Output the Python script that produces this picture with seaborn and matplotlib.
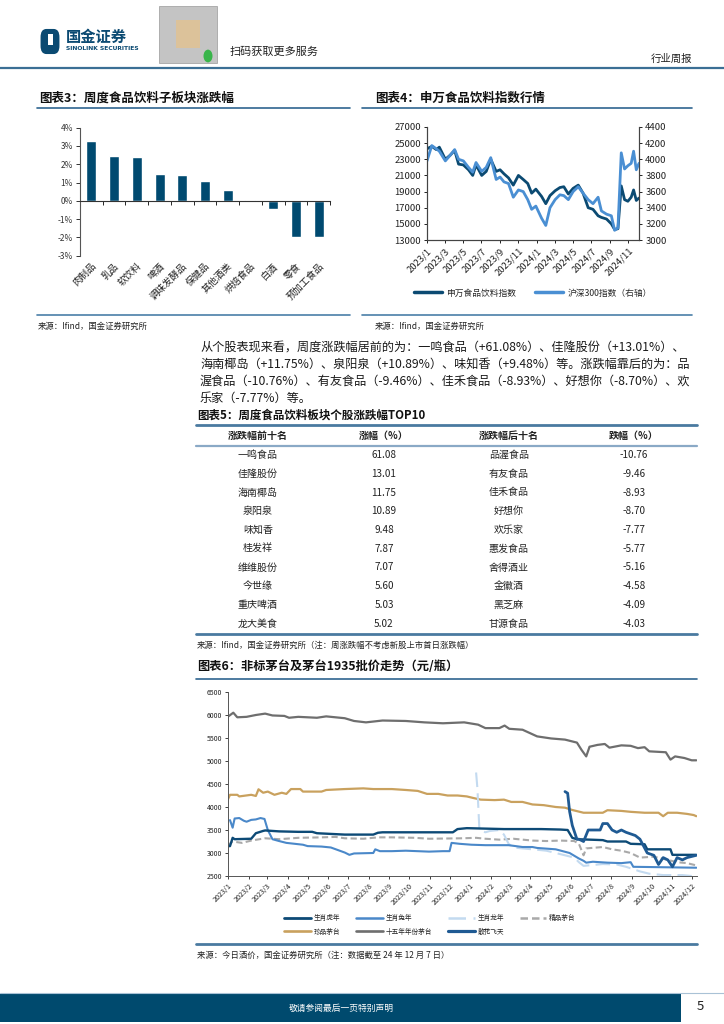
import matplotlib
matplotlib.use('Agg')
import matplotlib.pyplot as plt
from matplotlib.lines import Line2D
from matplotlib.patches import Rectangle, FancyBboxPatch, Circle
import seaborn as sns
import pandas as pd

sns.set_theme(style='white')
plt.rcParams['font.family'] = ['Noto Sans CJK SC', 'DejaVu Sans']
plt.rcParams['axes.unicode_minus'] = False

# ---------------- data ----------------
cats3 = ['肉制品', '乳品', '软饮料', '啤酒', '调味发酵品', '保健品', '其他酒类', '烘焙食品', '白酒', '零食', '预加工食品']
vals3 = [3.3, 2.45, 2.4, 1.45, 1.4, 1.1, 0.6, 0.05, -0.45, -1.95, -2.0]
yticks3 = [-3, -2, -1, 0, 1, 2, 3, 4]

d4 = ['2023-01-01', '2023-01-17', '2023-02-01', '2023-02-11', '2023-03-03', '2023-03-19', '2023-04-03', '2023-04-16',
      '2023-05-02', '2023-05-19', '2023-06-02', '2023-06-13', '2023-07-02', '2023-07-17', '2023-08-01', '2023-08-19',
      '2023-09-01', '2023-09-14', '2023-09-29', '2023-10-15', '2023-11-01', '2023-11-17', '2023-12-02', '2023-12-15',
      '2023-12-29', '2024-01-17', '2024-01-31', '2024-02-14', '2024-03-02', '2024-03-18', '2024-03-31', '2024-04-15',
      '2024-05-01', '2024-05-18', '2024-06-03', '2024-06-20', '2024-07-06', '2024-07-23', '2024-08-03', '2024-08-20',
      '2024-09-05', '2024-09-16', '2024-09-27', '2024-10-08', '2024-10-19', '2024-10-30', '2024-11-10', '2024-11-18',
      '2024-11-27', '2024-12-06']
sw_food = [24300, 24600, 24200, 24500, 23000, 23500, 24100, 22400, 22300, 21700, 21000, 22300, 21000, 21500, 23000,
           21500, 21700, 21200, 20700, 19800, 21000, 20500, 20000, 18800, 19300, 18400, 17500, 18500, 19100, 19500,
           19600, 18700, 19400, 19800, 18800, 17000, 16800, 16000, 15800, 15600, 15000, 14300, 14400, 19700, 18000,
           17800, 18300, 19200, 17900, 18200]
hs300 = [3980, 4170, 4130, 4100, 3980, 4050, 4120, 4000, 3980, 3900, 3840, 3960, 3850, 3900, 4020, 3750, 3780, 3720,
         3700, 3530, 3620, 3600, 3500, 3380, 3420, 3270, 3180, 3400, 3500, 3560, 3550, 3500, 3600, 3660, 3580, 3500,
         3450, 3530, 3360, 3320, 3300, 3120, 3150, 4080, 3880, 3920, 3950, 4100, 3870, 3950]
ticks4 = ['2023/1', '2023/3', '2023/5', '2023/7', '2023/9', '2023/11', '2024/1', '2024/3', '2024/5', '2024/7', '2024/9', '2024/11']

table_up_names = ['一鸣食品', '佳隆股份', '海南椰岛', '泉阳泉', '味知香', '桂发祥', '维维股份', '今世缘', '重庆啤酒', '龙大美食']
table_up_vals = [61.08, 13.01, 11.75, 10.89, 9.48, 7.87, 7.07, 5.60, 5.03, 5.02]
table_dn_names = ['品渥食品', '有友食品', '佳禾食品', '好想你', '欢乐家', '惠发食品', '舍得酒业', '金徽酒', '黑芝麻', '甘源食品']
table_dn_vals = [-10.76, -9.46, -8.93, -8.70, -7.77, -5.77, -5.16, -4.58, -4.09, -4.03]

tiger_d = ['2023-01-01', '2023-01-04', '2023-01-08', '2023-01-11', '2023-02-05', '2023-02-12', '2023-02-23', '2023-02-26',
           '2023-03-19', '2023-04-17', '2023-05-08', '2023-05-15', '2023-05-29', '2023-06-26', '2023-08-08', '2023-08-15',
           '2023-08-22', '2023-09-05', '2023-12-06', '2023-12-13', '2023-12-27', '2024-01-24', '2024-02-21', '2024-03-20',
           '2024-04-17', '2024-05-16', '2024-05-27', '2024-06-03', '2024-06-10', '2024-07-19', '2024-07-26', '2024-08-23',
           '2024-08-30', '2024-09-20', '2024-09-24', '2024-10-29', '2024-11-01', '2024-12-07']
tiger_v = [3150, 3150, 3330, 3300, 3310, 3430, 3480, 3490, 3470, 3460, 3460, 3430, 3420, 3400, 3400, 3440, 3450, 3450,
           3450, 3520, 3540, 3530, 3520, 3520, 3520, 3510, 3500, 3330, 3300, 3280, 3250, 3250, 3200, 3190, 3080, 3080,
           2960, 2960]
rabbit_d = ['2023-01-04', '2023-01-08', '2023-01-11', '2023-01-18', '2023-01-25', '2023-01-29', '2023-02-05', '2023-02-12',
            '2023-02-19', '2023-02-25', '2023-03-02', '2023-03-09', '2023-03-19', '2023-03-30', '2023-04-24', '2023-05-01',
            '2023-05-22', '2023-06-05', '2023-06-26', '2023-07-03', '2023-07-10', '2023-08-08', '2023-08-11', '2023-08-18',
            '2023-09-05', '2023-09-26', '2023-10-31', '2023-11-21', '2023-12-01', '2023-12-04', '2023-12-16', '2024-01-03',
            '2024-01-24', '2024-02-28', '2024-03-20', '2024-04-04', '2024-04-11', '2024-05-09', '2024-05-30', '2024-06-13',
            '2024-06-20', '2024-06-24', '2024-07-04', '2024-07-26', '2024-08-16', '2024-08-30', '2024-09-03', '2024-12-07']
rabbit_v = [3715, 3550, 3750, 3760, 3700, 3680, 3720, 3730, 3760, 3740, 3500, 3300, 3260, 3220, 3180, 3150, 3140, 3120,
            3010, 2960, 2990, 3000, 3080, 3040, 3040, 3050, 3030, 3040, 3040, 3220, 3200, 3180, 3170, 3170, 3130, 3130,
            3110, 3080, 3000, 2880, 2830, 2790, 2810, 2790, 2780, 2800, 2700, 2680]
dragon_d = ['2024-01-10', '2024-01-12', '2024-01-15', '2024-01-24', '2024-01-31', '2024-02-14', '2024-02-21', '2024-02-28',
            '2024-03-06', '2024-03-20', '2024-04-04', '2024-04-25', '2024-05-09', '2024-05-23', '2024-06-06', '2024-06-13',
            '2024-06-20', '2024-07-19', '2024-08-09', '2024-08-23', '2024-09-13', '2024-09-27', '2024-10-18', '2024-11-16',
            '2024-11-30', '2024-12-07']
dragon_v = [4750, 4400, 3500, 3450, 3480, 3500, 3400, 3200, 3120, 3100, 3080, 3050, 3000, 2950, 2900, 2800, 2720, 2760,
            2750, 2700, 2600, 2550, 2520, 2520, 2500, 2560]
jp_d = ['2023-01-01', '2023-01-08', '2023-01-22', '2023-02-05', '2023-02-26', '2023-03-19', '2023-04-17', '2023-05-22',
        '2023-06-12', '2023-06-26', '2023-07-24', '2023-08-15', '2023-09-05', '2023-10-10', '2023-10-31', '2023-12-20',
        '2024-01-10', '2024-01-24', '2024-02-14', '2024-03-06', '2024-04-04', '2024-04-25', '2024-05-16', '2024-06-06',
        '2024-06-13', '2024-06-20', '2024-06-24', '2024-07-19', '2024-08-02', '2024-08-16', '2024-08-30', '2024-09-13',
        '2024-10-04', '2024-10-25', '2024-11-08', '2024-11-23', '2024-12-07']
jp_v = [3170, 3250, 3220, 3270, 3320, 3300, 3330, 3340, 3350, 3320, 3310, 3340, 3340, 3330, 3310, 3320, 3330, 3310,
        3290, 3310, 3270, 3260, 3270, 3260, 3200, 2950, 3100, 3130, 3080, 3050, 3000, 2900, 2920, 2850, 2800, 2780, 2730]
zp_d = ['2023-01-01', '2023-01-04', '2023-01-15', '2023-01-18', '2023-02-05', '2023-02-12', '2023-02-16', '2023-02-23',
        '2023-03-02', '2023-03-12', '2023-03-23', '2023-03-30', '2023-04-06', '2023-04-20', '2023-04-24', '2023-05-22',
        '2023-05-29', '2023-06-26', '2023-07-24', '2023-08-08', '2023-09-05', '2023-09-26', '2023-10-14', '2023-10-28',
        '2023-11-14', '2023-11-28', '2023-12-13', '2023-12-27', '2024-01-06', '2024-01-17', '2024-02-07', '2024-02-21',
        '2024-03-03', '2024-03-20', '2024-04-04', '2024-04-21', '2024-05-09', '2024-05-23', '2024-06-03', '2024-06-20',
        '2024-07-19', '2024-07-26', '2024-08-16', '2024-08-30', '2024-09-20', '2024-10-11', '2024-10-18', '2024-10-25',
        '2024-11-08', '2024-11-23', '2024-12-03', '2024-12-07']
zp_v = [4170, 4265, 4265, 4230, 4265, 4240, 4385, 4310, 4335, 4265, 4310, 4285, 4390, 4390, 4335, 4335, 4370, 4390,
        4405, 4390, 4390, 4370, 4350, 4285, 4285, 4250, 4250, 4230, 4195, 4160, 4150, 4160, 4110, 4110, 4055, 4040,
        4000, 3985, 3935, 3875, 3875, 3930, 3915, 3895, 3875, 3875, 3800, 3875, 3875, 3850, 3825, 3800]
ft_d = ['2023-01-01', '2023-01-09', '2023-01-15', '2023-01-29', '2023-02-12', '2023-02-26', '2023-03-09', '2023-03-27',
        '2023-04-03', '2023-04-17', '2023-05-15', '2023-05-29', '2023-06-26', '2023-07-10', '2023-07-28', '2023-08-22',
        '2023-09-26', '2023-10-24', '2023-11-21', '2023-12-23', '2024-01-13', '2024-01-24', '2024-02-14', '2024-02-22',
        '2024-02-29', '2024-03-20', '2024-04-11', '2024-05-02', '2024-05-23', '2024-06-10', '2024-06-17', '2024-06-24',
        '2024-06-29', '2024-07-11', '2024-07-22', '2024-07-29', '2024-08-16', '2024-08-30', '2024-09-10', '2024-09-20',
        '2024-09-27', '2024-10-22', '2024-10-29', '2024-11-05', '2024-11-19', '2024-11-30', '2024-12-07']
ft_v = [5965, 6050, 5950, 5960, 6000, 6030, 5990, 5980, 5940, 5960, 5940, 5970, 5930, 5870, 5840, 5880, 5870, 5840,
        5820, 5840, 5790, 5715, 5715, 5770, 5700, 5680, 5535, 5490, 5465, 5400, 5240, 5100, 5310, 5350, 5370, 5290,
        5340, 5330, 5280, 5300, 5210, 5190, 5030, 5100, 5065, 5015, 5015]
sh_d = ['2024-05-23', '2024-05-27', '2024-05-30', '2024-06-03', '2024-06-10', '2024-06-13', '2024-06-20', '2024-06-27',
        '2024-07-04', '2024-07-15', '2024-07-19', '2024-07-26', '2024-08-02', '2024-08-09', '2024-08-16', '2024-08-23',
        '2024-09-06', '2024-09-13', '2024-09-24', '2024-10-04', '2024-10-11', '2024-10-18', '2024-10-25', '2024-11-01',
        '2024-11-08', '2024-11-16', '2024-11-23', '2024-12-07']
sh_v = [4335, 4300, 3900, 3600, 3300, 3300, 3250, 3500, 3500, 3500, 3640, 3640, 3500, 3450, 3500, 3450, 3380, 3300,
        3000, 2950, 2750, 2900, 2850, 2700, 2900, 2850, 2900, 2950]
ticks6 = ['2023/1', '2023/2', '2023/3', '2023/4', '2023/5', '2023/6', '2023/7', '2023/8', '2023/9', '2023/10', '2023/11',
          '2023/12', '2024/1', '2024/2', '2024/3', '2024/4', '2024/5', '2024/6', '2024/7', '2024/8', '2024/9', '2024/10',
          '2024/11', '2024/12']
yticks6 = [2500, 3000, 3500, 4000, 4500, 5000, 5500, 6000, 6500]

para_lines = ['从个股表现来看，周度涨跌幅居前的为：一鸣食品（+61.08%）、佳隆股份（+13.01%）、',
              '海南椰岛（+11.75%）、泉阳泉（+10.89%）、味知香（+9.48%）等。涨跌幅靠后的为：品',
              '渥食品（-10.76%）、有友食品（-9.46%）、佳禾食品（-8.93%）、好想你（-8.70%）、欢',
              '乐家（-7.77%）等。']

# ---------------- page helpers ----------------
W, H = 724, 1024
DARK = '#004a70'
RULE = '#3f729b'
TXT = '#222222'

fig = plt.figure(figsize=(W / 100, H / 100), dpi=100)
fig.patch.set_facecolor('white')


def axpx(x0, y0, x1, y1):
    return fig.add_axes([x0 / W, 1 - y1 / H, (x1 - x0) / W, (y1 - y0) / H])


def text(x, y, s, **kw):
    kw.setdefault('color', TXT)
    kw.setdefault('va', 'center')
    fig.text(x / W, 1 - y / H, s, **kw)


def rule(x0, x1, y, color=RULE, lw=1.2):
    fig.add_artist(Line2D([x0 / W, x1 / W], [1 - y / H, 1 - y / H], color=color, lw=lw,
                          transform=fig.transFigure))


def rect(x0, y0, x1, y1, **kw):
    fig.add_artist(Rectangle((x0 / W, 1 - y1 / H), (x1 - x0) / W, (y1 - y0) / H,
                             transform=fig.transFigure, **kw))


# ---------------- header ----------------
fig.add_artist(FancyBboxPatch((42 / W, 1 - 52 / H), 16 / W, 21 / H, boxstyle='round,pad=0.002,rounding_size=0.008',
                              transform=fig.transFigure, facecolor='#0b4a72', edgecolor='none'))
rect(48, 34, 53, 45, facecolor='white', edgecolor='none')
text(66, 37, '国金证券', fontsize=11, fontweight='bold', color='#0b4a72')
text(66, 48, 'SINOLINK SECURITIES', fontsize=4.3, fontweight='bold', color='#0b4a72', family='DejaVu Sans')
rect(159, 6, 217, 63, facecolor='#c4c4c4', edgecolor='#9a9a9a', lw=0.5)
rect(176, 20, 200, 48, facecolor='#dcc29a', edgecolor='none')
fig.add_artist(Circle((208 / W, 1 - 56 / H), 4.5 / W, transform=fig.transFigure, facecolor='#39b54a', edgecolor='none'))
text(230, 52, '扫码获取更多服务', fontsize=8)
text(651, 59, '行业周报', fontsize=7.5)
rule(0, 724, 68, color='#3b6f95', lw=1.6)

# ---------------- chart 3 ----------------
text(39, 98, '图表3：周度食品饮料子板块涨跌幅', fontsize=9, fontweight='bold', color='#111111')
rule(37, 350, 108, color='#2f6590', lw=1.2)
ax3 = axpx(80, 127.7, 330, 255.7)
sns.barplot(x=cats3, y=vals3, order=cats3, color=DARK, saturation=1, width=0.44, ax=ax3)
ax3.set_xlim(-0.5, len(cats3) - 0.5)
ax3.set_ylim(min(yticks3), max(yticks3))
ax3.set_yticks(yticks3)
ax3.set_yticklabels([f'{v}%' for v in yticks3])
ax3.tick_params(axis='y', labelsize=6, length=3, width=0.7, direction='out', pad=2, colors='#333333', left=True)
for s in ['top', 'right']:
    ax3.spines[s].set_visible(False)
ax3.spines['left'].set_color('#555555')
ax3.spines['left'].set_linewidth(0.8)
ax3.spines['bottom'].set_position(('data', 0))
ax3.spines['bottom'].set_color('#333333')
ax3.spines['bottom'].set_linewidth(0.8)
ax3.set_xticks([i + 0.5 for i in range(len(cats3))])
ax3.set_xticklabels([''] * len(cats3))
ax3.tick_params(axis='x', length=3, width=0.7, direction='out', bottom=True)
ax3.set_xlabel('')
sec3 = ax3.secondary_xaxis('bottom')
sec3.set_xticks(range(len(cats3)))
sec3.set_xticklabels(cats3, fontsize=6.8, color='#222222')
sec3.tick_params(axis='x', length=0, pad=4)
sec3.spines['bottom'].set_visible(False)
for lab in sec3.get_xticklabels():
    lab.set_rotation(45)
    lab.set_ha('right')
    lab.set_va('top')
    lab.set_rotation_mode('anchor')
rule(37, 350, 315, color='#4a7fa8', lw=1.2)
text(38, 326, '来源：Ifind，国金证券研究所', fontsize=6)

# ---------------- chart 4 ----------------
text(375, 98, '图表4：申万食品饮料指数行情', fontsize=9, fontweight='bold', color='#111111')
rule(362, 692, 108, color='#2f6590', lw=1.2)
dates4 = pd.to_datetime(d4)
ax4 = axpx(427, 127, 639, 240)
sns.lineplot(x=dates4, y=sw_food, ax=ax4, color='#0b4a72', linewidth=2.0)
ax4r = ax4.twinx()
sns.lineplot(x=dates4, y=hs300, ax=ax4r, color='#4a8fd3', linewidth=2.0)
ax4.set_ylim(13000, 27000)
ax4.set_yticks(range(13000, 27001, 2000))
ax4r.set_ylim(3000, 4400)
ax4r.set_yticks(range(3000, 4401, 200))
ax4.set_xlim(dates4[0], dates4[-1])
tpos4 = pd.to_datetime(ticks4, format='%Y/%m')
ax4.set_xticks(tpos4)
ax4.set_xticklabels(ticks4)
for lab in ax4.get_xticklabels():
    lab.set_rotation(45)
    lab.set_ha('right')
    lab.set_rotation_mode('anchor')
ax4.tick_params(axis='x', labelsize=6.8, length=2.5, width=0.7, direction='out', bottom=True, pad=2, colors='#222222')
ax4.tick_params(axis='y', labelsize=6.8, length=2.5, width=0.7, direction='out', left=True, pad=2, colors='#222222')
ax4r.tick_params(axis='y', labelsize=6.8, length=2.5, width=0.7, direction='out', right=True, pad=2, colors='#222222')
for a in (ax4, ax4r):
    a.set_xlabel('')
    a.set_ylabel('')
    a.spines['top'].set_visible(False)
    for s in ['left', 'right', 'bottom']:
        a.spines[s].set_color('#444444')
        a.spines[s].set_linewidth(0.8)
h4 = [Line2D([], [], color='#0b4a72', lw=2.5), Line2D([], [], color='#4a8fd3', lw=2.5)]
fig.legend(h4, ['申万食品饮料指数', '沪深300指数（右轴）'], loc='center', bbox_to_anchor=(533 / W, 1 - 293 / H),
           ncol=2, frameon=False, fontsize=6.3, handlelength=3.2, columnspacing=2.2, handletextpad=0.5)
rule(362, 692, 315, color='#4a7fa8', lw=1.2)
text(375, 326, '来源：Ifind，国金证券研究所', fontsize=6)

# ---------------- paragraph ----------------
for i, ln in enumerate(para_lines):
    text(200, 347 + 17 * i, ln, fontsize=8.75, color='#1a1a1a')

# ---------------- table (chart 5) ----------------
text(197, 415, '图表5：周度食品饮料板块个股涨跌幅TOP10', fontsize=8.3, fontweight='bold', color='#111111')
rule(196, 697, 425, color='#4a7aa0', lw=2.0)
cols = [258, 384, 509, 634]
heads = ['涨跌幅前十名', '涨幅（%）', '涨跌幅后十名', '跌幅（%）']
for cx, hd in zip(cols, heads):
    text(cx, 436, hd, fontsize=7.2, fontweight='bold', ha='center')
rule(196, 697, 446, color='#8aa9c6', lw=1.6)
for i in range(len(table_up_names)):
    y = 455 + 18.75 * i
    text(cols[0], y, table_up_names[i], fontsize=7.2, ha='center')
    text(cols[1], y, f'{table_up_vals[i]:.2f}', fontsize=7.2, ha='center')
    text(cols[2], y, table_dn_names[i], fontsize=7.2, ha='center')
    text(cols[3], y, f'{table_dn_vals[i]:.2f}', fontsize=7.2, ha='center')
rule(196, 697, 634, color='#4a7aa0', lw=2.0)
text(197, 645, '来源：Ifind，国金证券研究所（注：周涨跌幅不考虑新股上市首日涨跌幅）', fontsize=6)

# ---------------- chart 6 ----------------
text(197, 667, '图表6：非标茅台及茅台1935批价走势（元/瓶）', fontsize=8.8, fontweight='bold', color='#111111')
rule(196, 697, 679, color='#2f6590', lw=1.2)
ax6 = axpx(228, 692, 697, 876)
series6 = [
    ('十五年年份茅台', ft_d, ft_v, '#6e6e6e', 1.6, '-'),
    ('珍品茅台', zp_d, zp_v, '#c9a15e', 1.6, '-'),
    ('精品茅台', jp_d, jp_v, '#a9a9a9', 1.5, (0, (3, 1.6))),
    ('生肖龙年', dragon_d, dragon_v, '#c3daf0', 1.5, (0, (7, 3))),
    ('生肖兔年', rabbit_d, rabbit_v, '#4a88c9', 1.5, '-'),
    ('生肖虎年', tiger_d, tiger_v, '#0d4a76', 1.7, '-'),
    ('散花飞天', sh_d, sh_v, '#1f5a93', 2.0, '-'),
]
styles6 = {}
for name, dd, vv, col, lw, ls in series6:
    sns.lineplot(x=pd.to_datetime(dd), y=vv, ax=ax6, color=col, linewidth=lw)
    ax6.lines[-1].set_linestyle(ls)
    styles6[name] = (col, lw, ls)
ax6.set_ylim(min(yticks6), max(yticks6))
ax6.set_yticks(yticks6)
ax6.set_xlim(pd.Timestamp('2023-01-01'), pd.Timestamp('2024-12-08'))
tpos6 = pd.to_datetime(ticks6, format='%Y/%m')
ax6.set_xticks(tpos6)
ax6.set_xticklabels(ticks6)
for lab in ax6.get_xticklabels():
    lab.set_rotation(45)
    lab.set_ha('right')
    lab.set_rotation_mode('anchor')
ax6.tick_params(axis='x', labelsize=5.2, length=2, width=0.6, direction='out', bottom=True, pad=2, colors='#222222')
ax6.tick_params(axis='y', labelsize=5.0, length=2, width=0.6, direction='out', left=True, pad=2, colors='#222222')
ax6.set_xlabel('')
ax6.set_ylabel('')
for s in ['top', 'right']:
    ax6.spines[s].set_visible(False)
for s in ['left', 'bottom']:
    ax6.spines[s].set_color('#555555')
    ax6.spines[s].set_linewidth(0.7)
order6 = ['生肖虎年', '珍品茅台', '生肖兔年', '十五年年份茅台', '生肖龙年', '散花飞天', '精品茅台']
h6 = [Line2D([], [], color=styles6[n][0], lw=styles6[n][1] + 0.3, linestyle=styles6[n][2]) for n in order6]
fig.legend(h6, order6, loc='center', bbox_to_anchor=(430 / W, 1 - 925 / H), ncol=4, frameon=False,
           fontsize=4.8, handlelength=4.0, columnspacing=2.4, labelspacing=0.8, handletextpad=0.4)
rule(196, 697, 944, color='#4a7aa0', lw=2.0)
text(197, 955, '来源：今日酒价，国金证券研究所（注：数据截至 24 年 12 月 7 日）', fontsize=6)

# ---------------- footer ----------------
rect(0, 994, 681, 1022, facecolor='#004a6e', edgecolor='none')
rule(0, 724, 993, color='#a9c2d6', lw=0.8)
text(341, 1008, '敬请参阅最后一页特别声明', fontsize=6.3, color='white', ha='center')
text(700, 1007, '5', fontsize=9.5, ha='center', color='#222222')

fig.savefig('out.png', dpi=100)
